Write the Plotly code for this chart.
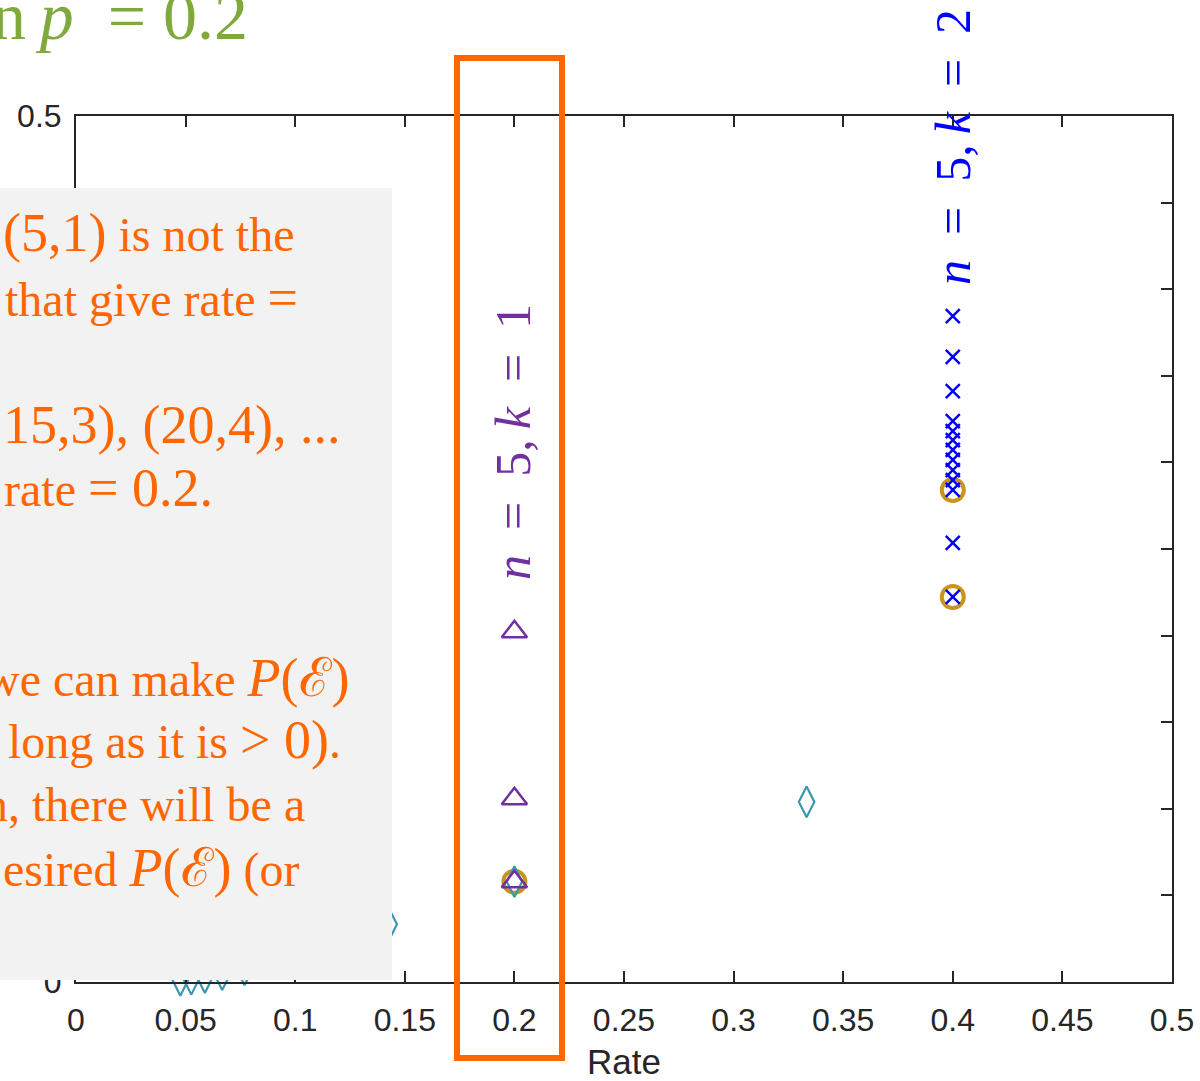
import plotly.graph_objects as go

# ---------------- data ----------------
# best codes (gold circles)
rate_best = [0.2, 0.4, 0.4]
perr_best = [0.0579, 0.2841, 0.2223]

# repetition codes (teal diamonds), rate = 1/n
rate_rep = [0.3333, 0.2, 0.1429, 0.1111, 0.0909, 0.0769, 0.0667, 0.0588, 0.0526, 0.0476]
perr_rep = [0.104, 0.058, 0.0333, 0.0196, 0.0117, 0.0070, 0.0042, 0.0026, 0.0016, 0.0010]

# codes with n = 5, k = 2 (blue crosses)
rate_k2 = [0.4] * 13
perr_k2 = [0.3845, 0.3609, 0.3412, 0.3239, 0.3181, 0.3129, 0.3072, 0.3014,
           0.2956, 0.2898, 0.2841, 0.2535, 0.2223]

# codes with n = 5, k = 1 (purple triangles)
rate_k1 = [0.2, 0.2, 0.2]
perr_k1 = [0.2022, 0.1058, 0.0579]

x_ticks = [0, 0.05, 0.1, 0.15, 0.2, 0.25, 0.3, 0.35, 0.4, 0.45, 0.5]
x_ticklabels = ["0", "0.05", "0.1", "0.15", "0.2", "0.25", "0.3", "0.35", "0.4", "0.45", "0.5"]
y_ticks = [0, 0.05, 0.1, 0.15, 0.2, 0.25, 0.3, 0.35, 0.4, 0.45, 0.5]
y_ticklabels = ["0", "0.05", "0.1", "0.15", "0.2", "0.25", "0.3", "0.35", "0.4", "0.45", "0.5"]

# ---------------- styles ----------------
GOLD = "#C8961E"
TEAL = "#3A97AE"
BLUE = "#0000FF"
PURPLE = "#7030A0"
ORANGE = "#FF6600"
GREEN = "#7FAA3B"
AXIS = "#262626"
SERIF = "Liberation Serif, DejaVu Serif, serif"
SANS = "Liberation Sans, Arial, sans-serif"

W, H = 1200, 1081
L, R, T, B = 76, 1172, 116, 982


def px(x):
    return (x - L) / (R - L)


def py(y):
    return (B - y) / (B - T)


fig = go.Figure()

fig.add_trace(go.Scatter(
    x=rate_best, y=perr_best, mode="markers", cliponaxis=False, showlegend=False,
    marker=dict(symbol="circle-open", size=22, color=GOLD, line=dict(width=4, color=GOLD))))
fig.add_trace(go.Scatter(
    x=rate_rep, y=perr_rep, mode="markers", cliponaxis=False, showlegend=False,
    marker=dict(symbol="diamond-tall-open", size=22, color=TEAL, line=dict(width=2.2, color=TEAL))))
fig.add_trace(go.Scatter(
    x=rate_k2, y=perr_k2, mode="markers", cliponaxis=False, showlegend=False,
    marker=dict(symbol="x-thin-open", size=14, color=BLUE, line=dict(width=2.5, color=BLUE))))
fig.add_trace(go.Scatter(
    x=rate_k1, y=perr_k1, mode="markers", cliponaxis=False, showlegend=False,
    marker=dict(symbol="triangle-up-open", size=22, color=PURPLE, line=dict(width=2.5, color=PURPLE))))

axis_common = dict(
    showgrid=False, zeroline=False, showline=True, linecolor=AXIS, linewidth=2,
    mirror="ticks", ticks="inside", ticklen=11, tickwidth=1.5, tickcolor=AXIS,
    tickfont=dict(family=SANS, size=32, color=AXIS), automargin=False,
)

fig.update_xaxes(range=[0, 0.5], tickvals=x_ticks, ticktext=x_ticklabels,
                 ticklabelstandoff=9,
                 title=dict(text="Rate", font=dict(family=SANS, size=35, color=AXIS), standoff=24),
                 **axis_common)
fig.update_yaxes(range=[0, 0.5], tickvals=y_ticks, ticktext=y_ticklabels,
                 ticklabelstandoff=6, **axis_common)

shapes = [
    dict(type="rect", xref="paper", yref="paper", layer="above",
         x0=px(-5), x1=px(392), y0=py(980), y1=py(188),
         fillcolor="#F2F2F2", line=dict(width=0)),
    dict(type="rect", xref="paper", yref="paper", layer="above",
         x0=px(457), x1=px(562), y0=py(1058), y1=py(58),
         fillcolor="rgba(0,0,0,0)", line=dict(width=6, color=ORANGE)),
]

M = "font-size:54px"
notes = [
    # (text, x, y, xanchor)
    (f"<span style='{M}'>(5,1)</span> is not the", 1, 233, "left"),
    (f"that give rate <span style='{M}'>=</span>", 3, 298, "left"),
    (f"<span style='{M}'>15,3), (20,4), ...</span>", 342, 425, "right"),
    (f"rate <span style='{M}'>= 0.2.</span>", 215, 488, "right"),
    (f"we can make <span style='{M}'><i>P</i>(ℰ)</span>", 352, 678, "right"),
    (f"long as it is <span style='{M}'>&gt; 0)</span>.", 6, 740, "left"),
    ("n, there will be a", 307, 804, "right"),
    (f"esired <span style='{M}'><i>P</i>(ℰ)</span> (or", 302, 868, "right"),
]

annotations = []
for text, x, y, xa in notes:
    annotations.append(dict(
        text=text, xref="paper", yref="paper", x=px(x), y=py(y),
        xanchor=xa, yanchor="middle", showarrow=False,
        font=dict(family=SERIF, size=48, color=ORANGE)))

annotations.append(dict(
    text="n\u2009<i>p</i>\u2002=\u00a00.2", xref="paper", yref="paper", x=px(250), y=py(16),
    xanchor="right", yanchor="middle", showarrow=False,
    font=dict(family=SERIF, size=68, color=GREEN)))

VT = "<i>n</i>\u2002=\u20025,\u2009<i>k</i>\u2002=\u2002"
annotations.append(dict(
    text=VT + "1", xref="paper", yref="paper", x=px(513), y=py(442),
    xanchor="center", yanchor="middle", showarrow=False, textangle=-90,
    font=dict(family=SERIF, size=50, color=PURPLE)))
annotations.append(dict(
    text=VT + "2", xref="paper", yref="paper", x=px(953), y=py(147),
    xanchor="center", yanchor="middle", showarrow=False, textangle=-90,
    font=dict(family=SERIF, size=50, color=BLUE)))

fig.update_layout(
    width=W, height=H, autosize=False,
    margin=dict(l=L, r=W - R, t=T, b=H - B, pad=0, autoexpand=False),
    paper_bgcolor="white", plot_bgcolor="white",
    shapes=shapes, annotations=annotations, showlegend=False,
)

fig.write_html("out.html", config={"displayModeBar": False},
               post_script="document.body.style.margin='0px';document.body.style.overflow='hidden';")
